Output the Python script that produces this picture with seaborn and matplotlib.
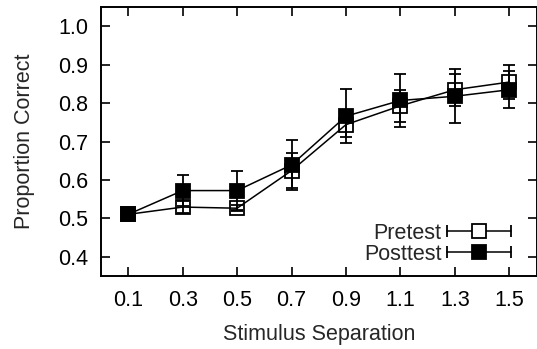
import numpy as np
import pandas as pd
import matplotlib
matplotlib.use("Agg")
import matplotlib.pyplot as plt
import seaborn as sns
from matplotlib.lines import Line2D
from matplotlib.legend_handler import HandlerBase

# ---- data ----
separation = [0.1, 0.3, 0.5, 0.7, 0.9, 1.1, 1.3, 1.5]
pretest = [0.51, 0.529, 0.526, 0.624, 0.744, 0.793, 0.835, 0.855]
pretest_err = [0.0, 0.016, 0.008, 0.045, 0.033, 0.042, 0.042, 0.045]
posttest = [0.51, 0.572, 0.572, 0.639, 0.766, 0.807, 0.818, 0.835]
posttest_err = [0.0, 0.041, 0.051, 0.065, 0.071, 0.070, 0.070, 0.048]
xticks = [0.1, 0.3, 0.5, 0.7, 0.9, 1.1, 1.3, 1.5]
yticks = [0.4, 0.5, 0.6, 0.7, 0.8, 0.9, 1.0]
series_names = ["Pretest", "Posttest"]

sns.set_style("ticks")
plt.rcParams["font.family"] = ["Liberation Sans", "DejaVu Sans"]
FS = 15.5

df = pd.DataFrame({
    "sep": separation * 2,
    "val": pretest + posttest,
    "err": pretest_err + posttest_err,
    "test": [series_names[0]] * len(separation) + [series_names[1]] * len(separation),
})

fig = plt.figure(figsize=(5.37, 3.49), dpi=100)
ax = fig.add_axes([101 / 537, 1 - 275.7 / 349, 435.5 / 537, (275.7 - 7.3) / 349])

face = {"Pretest": "none", "Posttest": "black"}
for name in series_names:
    sub = df[df["test"] == name]
    ax.errorbar(sub["sep"], sub["val"], yerr=sub["err"], fmt="none",
                ecolor="black", elinewidth=1.3, capsize=4, capthick=1.3, zorder=2)
    sns.lineplot(data=sub, x="sep", y="val", ax=ax, color="black", lw=1.1,
                 marker="s", markersize=10, mec="black", mew=1.3, mfc=face[name],
                 estimator=None, errorbar=None, zorder=3)

ax.set_xlim(0.0, 1.6)
ax.set_ylim(0.35, 1.05)
ax.set_xticks(xticks)
ax.set_xticklabels([f"{v:.1f}" for v in xticks])
ax.set_yticks(yticks)
ax.set_yticklabels([f"{v:.1f}" for v in yticks])
ax.tick_params(direction="in", length=6.5, width=1.2, top=True, right=True,
               labelsize=FS, colors="black")
ax.tick_params(axis="x", pad=10)
ax.tick_params(axis="y", pad=9)
for s in ax.spines.values():
    s.set_visible(True)
    s.set_linewidth(1.4)
    s.set_color("black")
ax.set_xlabel("Stimulus Separation", fontsize=FS, labelpad=10)
ax.set_ylabel("Proportion Correct", fontsize=FS, labelpad=17)


# legend in gnuplot style: label, then horizontal error-bar key with marker
class ErrKey(HandlerBase):
    def __init__(self, facecolor):
        super().__init__()
        self.facecolor = facecolor

    def create_artists(self, legend, orig_handle, xdescent, ydescent,
                       width, height, fontsize, trans):
        y = height / 2 - ydescent
        x0, x1 = -xdescent, width - xdescent
        line = Line2D([x0, x1], [y, y], color="black", lw=1.1)
        caps = Line2D([x0, x1], [y, y], ls="none", marker="|", markersize=9,
                      mew=1.3, color="black")
        mk = Line2D([(x0 + x1) / 2], [y], ls="none", marker="s", markersize=10,
                    mfc=self.facecolor, mec="black", mew=1.3)
        for a in (line, caps, mk):
            a.set_transform(trans)
        return [line, caps, mk]


h_pre = Line2D([], [], color="black")
h_post = Line2D([], [], color="black")
ax.legend(handles=[h_pre, h_post], labels=series_names,
          handler_map={h_pre: ErrKey("white"), h_post: ErrKey("black")},
          markerfirst=False, frameon=False, fontsize=FS,
          handlelength=3.0, handletextpad=0.25, labelspacing=0.0,
          borderpad=0, borderaxespad=0,
          loc="lower right", bbox_to_anchor=(0.942, 0.041))

fig.savefig("out.png", dpi=100)
